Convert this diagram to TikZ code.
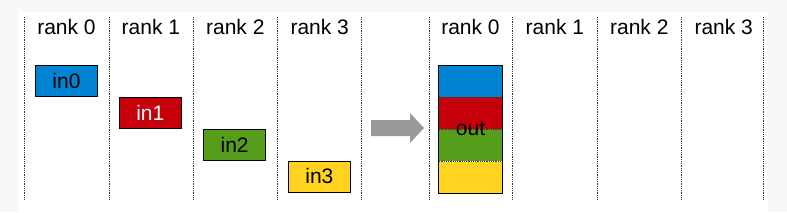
\documentclass[tikz,border=0pt]{standalone}
\usepackage{fontspec}
\setmainfont{Liberation Sans}
\usetikzlibrary{positioning}
\definecolor{bgray}{HTML}{F8F8F8}
\definecolor{cblue}{HTML}{0084D1}
\definecolor{cred}{HTML}{C5000B}
\definecolor{cgreen}{HTML}{579D1C}
\definecolor{cyellow}{HTML}{FFD320}
\definecolor{arrgray}{HTML}{999999}
\begin{document}
\begin{tikzpicture}[x=1pt,y=-1pt,font=\fontsize{21}{25}\selectfont,rank/.style={inner sep=0pt,minimum width=84pt,minimum height=24pt},buf/.style={draw=black,line width=0.8pt,minimum width=62.5pt,minimum height=31pt,inner sep=0pt},seg/.style={minimum width=63pt,minimum height=31.75pt,inner sep=0pt},sep/.style={densely dotted,line width=0.8pt,draw=black!80}]
\useasboundingbox (0,0) rectangle (787,212);
\fill[bgray] (0,0) rectangle (787,212);
\fill[white] (18,12) rectangle (768,212);
% ranks before
\node[rank] (r0) at (66.5,27) {rank 0};
\node[rank,right=0pt of r0] (r1) {rank 1};
\node[rank,right=0pt of r1] (r2) {rank 2};
\node[rank,right=0pt of r2] (r3) {rank 3};
% ranks after
\node[rank] (s0) at (470.5,27) {rank 0};
\node[rank,right=0pt of s0] (s1) {rank 1};
\node[rank,right=0pt of s1] (s2) {rank 2};
\node[rank,right=0pt of s2] (s3) {rank 3};
\foreach \x in {24,109,193,277,361,429,512,597,681,763} \draw[sep] (\x,17)--(\x,200);
% inputs
\node[buf,fill=cblue] (in0) at (66.5,81) {in0};
\node[buf,fill=cred,text=white,below right=0pt and 20.5pt of in0] (in1) {in1};
\node[buf,fill=cgreen,below right=0pt and 21pt of in1] (in2) {in2};
\node[buf,fill=cyellow,below right=0pt and 21.5pt of in2] (in3) {in3};
% gather arrow
\fill[arrgray] (371,120)--(410,120)--(410,113)--(424,128)--(410,143)--(410,136)--(371,136)--cycle;
% output
\node[seg,fill=cblue] (o0) at (470.5,81) {};
\node[seg,fill=cred,below=0pt of o0] (o1) {};
\node[seg,fill=cgreen,below=0pt of o1] (o2) {};
\node[seg,fill=cyellow,below=0pt of o2] (o3) {};
\draw[sep](o1.north west)--(o1.north east);\draw[sep](o2.north west)--(o2.north east);\draw[sep](o3.north west)--(o3.north east);
\draw[line width=0.8pt](o0.north west) rectangle (o3.south east);
\node (out) at (o1.south) {out};
\end{tikzpicture}
\end{document}
